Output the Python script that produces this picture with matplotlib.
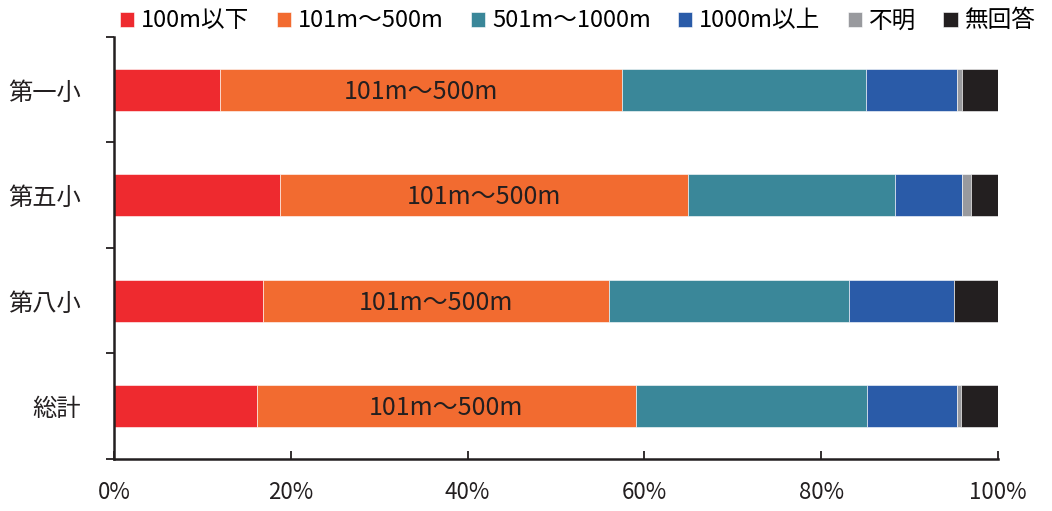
import matplotlib
matplotlib.use("Agg")
import matplotlib.pyplot as plt
from matplotlib.ticker import PercentFormatter

plt.rcParams['font.family'] = ['Noto Sans CJK JP', 'DejaVu Sans']

# distance-to-school shares (%) per school
schools = ["第一小", "第五小", "第八小", "総計"]
categories = ["100m以下", "101m～500m", "501m～1000m", "1000m以上", "不明", "無回答"]
under_100 = [12.0, 18.8, 16.9, 16.2]
m101_500 = [45.5, 46.1, 39.1, 42.8]
m501_1000 = [27.6, 23.4, 27.1, 26.2]
over_1000 = [10.3, 7.6, 11.9, 10.2]
unknown = [0.5, 1.0, 0.0, 0.4]
no_answer = [4.1, 3.1, 5.0, 4.2]
series = [under_100, m101_500, m501_1000, over_1000, unknown, no_answer]
colors = ["#EE2A2F", "#F26B30", "#3A8799", "#2A5BA8", "#999A9E", "#231F20"]

fig = plt.figure(figsize=(10.52, 5.11), dpi=100)
ax = fig.add_axes([0.1084, 0.1018, 0.8403, 0.8258])

ypos = list(range(len(schools)))
left = [0.0] * len(schools)
for name, vals, c in zip(categories, series, colors):
    bars = ax.barh(ypos, vals, left=left, height=0.40, color=c, label=name,
                   edgecolor="white", linewidth=0.4)
    if name == "101m～500m":
        for y, l, v in zip(ypos, left, vals):
            ax.text(l + v / 2, y + 0.02, name, ha="center", va="center",
                    fontsize=18, color="#231F20")
    left = [a + b for a, b in zip(left, vals)]

ax.set_xlim(0, 100)
ax.set_ylim(len(schools) - 0.5, -0.5)
ax.xaxis.set_major_formatter(PercentFormatter(decimals=0))
ax.set_xticks(range(0, 101, 20))
ax.set_yticks(ypos)
ax.set_yticklabels(schools, fontsize=17.5)
ax.set_yticks([i - 0.5 for i in range(len(schools) + 1)], minor=True)
ax.tick_params(axis="y", which="major", length=0, pad=24)
ax.tick_params(axis="y", which="minor", length=6, width=1.3, color="#231F20")
ax.tick_params(axis="x", length=6, width=1.3, color="#231F20", labelsize=16,
               pad=16, direction="in")
for t in ax.get_xticklabels():
    t.set_color("#231F20")
for t in ax.get_yticklabels():
    t.set_color("#231F20")

for s in ["top", "right"]:
    ax.spines[s].set_visible(False)
for s in ["left", "bottom"]:
    ax.spines[s].set_linewidth(1.8)
    ax.spines[s].set_color("#231F20")

fig.legend(loc="upper left", bbox_to_anchor=(0.105, 1.0), ncol=6, frameon=False,
           fontsize=17, handlelength=0.6, handleheight=0.6, handletextpad=0.3,
           columnspacing=1.15, borderaxespad=0)

fig.savefig("out.png", dpi=100)
